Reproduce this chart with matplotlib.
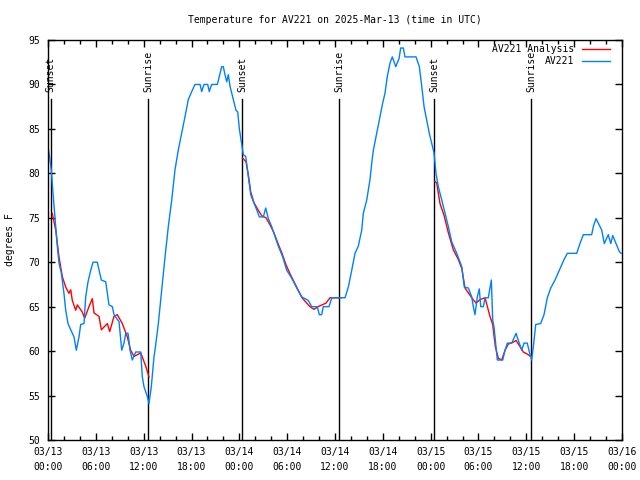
import matplotlib
matplotlib.use('Agg')
import matplotlib.pyplot as plt
from matplotlib.ticker import MultipleLocator
import numpy as np

# hours since 2025-03-13 00:00 UTC
obs_hours = [0.0, 0.25, 0.41, 0.66, 0.97, 1.17, 1.38, 1.67, 2.0, 2.22, 2.51, 2.85, 3.26, 3.55,
             3.89, 4.10, 4.52, 4.73, 5.02, 5.36, 5.64, 6.18, 6.69, 7.24, 7.65, 8.07, 8.28, 8.91,
             9.25, 9.53, 9.75, 10.04, 10.29, 10.57, 11.0, 11.63, 11.83, 12.04, 12.46, 12.67,
             12.96, 13.30, 13.42, 13.84, 14.26, 14.68, 15.09, 15.52, 15.93, 16.34, 16.77, 17.19,
             17.60, 18.03, 18.44, 19.07, 19.28, 19.57, 20.03, 20.23, 20.53, 21.24, 21.49, 21.79,
             21.99, 22.20, 22.42, 22.62, 22.83, 23.24, 23.58, 23.80, 24.0, 24.21, 24.50, 24.80,
             25.13, 25.43, 25.68, 26.09, 26.51, 27.01, 27.31, 27.64, 28.06, 28.47, 28.89, 29.44,
             29.94, 30.57, 31.20, 31.82, 32.65, 33.08, 33.78, 34.03, 34.33, 34.53, 35.25, 35.59,
             37.26, 37.67, 38.10, 38.51, 38.92, 39.35, 39.55, 39.98, 40.39, 40.60, 40.81, 41.23,
             41.65, 41.98, 42.27, 42.56, 42.90, 43.19, 43.62, 44.03, 44.24, 44.57, 44.78, 46.16,
             46.58, 46.88, 47.17, 47.50, 47.83, 48.13, 48.42, 48.67, 48.96, 49.39, 49.80, 50.22,
             50.64, 51.27, 51.90, 52.22, 52.73, 53.15, 53.35, 53.56, 53.85, 54.10, 54.28, 54.61,
             54.82, 55.23, 55.44, 55.61, 55.78, 55.95, 56.20, 56.36, 57.04, 57.33, 57.62, 58.17,
             58.71, 59.0, 59.42, 59.71, 60.12, 60.46, 60.67, 60.88, 61.18, 61.80, 62.22, 62.63,
             63.06, 63.60, 64.14, 64.73, 65.14, 66.32, 66.73, 67.15, 68.20, 68.40, 68.74, 69.03,
             69.46, 69.78, 70.28, 70.59, 70.84, 71.25, 71.66, 71.88]
obs_temp = [83.0, 81.5, 80.4, 77.4, 74.0, 71.8, 69.9, 68.8, 66.5, 64.6, 63.1, 62.4, 61.6, 60.1,
            61.6, 63.0, 63.1, 66.1, 67.8, 69.1, 70.0, 70.0, 68.0, 67.8, 65.2, 65.0, 64.1, 63.3,
            60.1, 60.9, 62.0, 62.0, 60.1, 59.0, 59.9, 59.9, 57.1, 56.0, 54.9, 54.1,
            56.0, 59.4, 60.1, 63.1, 66.9, 70.6, 74.0, 77.0, 80.4, 82.6, 84.5, 86.4,
            88.3, 89.2, 90.0, 90.0, 89.2, 90.0, 90.0, 89.2, 90.0, 90.0, 90.9, 92.0,
            92.0, 91.1, 90.3, 91.1, 89.8, 88.3, 87.1, 86.9, 85.0, 83.8, 82.1, 81.9,
            79.6, 77.6, 77.0, 76.1, 75.1, 75.1, 76.1, 74.9, 74.0, 72.9, 71.8, 70.6,
            69.1, 68.2, 67.1, 66.1, 65.7, 65.0, 65.0, 64.1, 64.1, 65.0, 65.0, 66.0,
            66.0, 67.2, 69.1, 71.0, 71.8, 73.6, 75.5, 77.0, 79.3, 81.1, 82.6, 84.5,
            86.4, 87.9, 89.0, 90.9, 92.4, 93.1, 92.0, 92.9, 94.1, 94.1, 93.1, 93.1,
            92.0, 89.8, 87.5, 86.0, 84.5, 83.4, 82.3, 80.0, 78.5, 77.0, 75.5, 74.0,
            72.3, 71.0, 69.5, 67.2, 67.1, 66.1, 65.0, 64.1, 66.1, 67.0, 65.0, 65.0,
            66.0, 66.0, 67.1, 68.0, 63.5, 62.7, 60.5, 59.0, 59.0, 60.1, 60.9, 60.9,
            62.0, 61.2, 60.1, 60.9, 60.9, 59.6, 59.0, 60.5, 63.0, 63.1, 64.1, 66.0,
            67.1, 68.0, 69.1, 70.3, 71.0, 71.0, 72.1, 73.1, 73.1, 74.0, 74.9, 74.4,
            73.6, 72.1, 73.1, 72.1, 73.0, 72.1, 71.2, 71.0]

# analysis, one segment per night (nan splits them)
ana_hours = [0.54, 0.97, 1.38, 1.79, 2.22, 2.63, 2.85, 3.05, 3.47, 3.68, 4.30, 4.60, 5.14, 5.56,
             5.77, 6.40, 6.69, 7.44, 7.74, 8.28, 8.69, 9.32, 9.95, 10.37, 10.79, 11.63, 12.26,
             12.67, np.nan,
             24.42, 24.84, 25.13, 25.43, 25.84, 26.34, 26.84, 27.34, 27.85, 28.35, 28.85, 29.35,
             29.86, 30.36, 30.86, 31.36, 31.86, 32.36, 32.86, 33.36, 33.87, 34.37, 34.87, 35.37,
             36.75, np.nan,
             48.54, 48.76, 49.17, 49.67, 50.22, 50.84, 51.47, 51.90, 52.31, 53.15, 53.69, 54.19,
             54.82, 55.44, 55.78, 56.11, 56.49, 56.91, 57.33, 57.74, 58.37, 58.71, 59.21, 59.62,
             60.05, 60.55]
ana_temp = [75.5, 73.6, 70.6, 68.4, 67.2, 66.5, 66.9, 65.7, 64.6, 65.2, 64.4, 63.7, 65.0, 65.9,
            64.3, 63.9, 62.4, 63.1, 62.2, 63.9, 64.1, 63.1, 61.6, 60.1, 59.4, 59.8, 58.3,
            57.1, np.nan,
            81.7, 81.3, 79.8, 77.9, 76.7, 75.9, 75.2, 75.0, 74.2, 73.3, 72.1, 71.0,
            69.7, 68.7, 67.8, 66.9, 66.0, 65.5, 65.0, 64.7, 65.0, 65.2, 65.4, 66.0,
            66.0, np.nan,
            79.1, 78.9, 76.6, 75.3, 73.3, 71.4, 70.3, 69.3, 67.1, 66.0, 65.4, 65.8,
            66.0, 63.9, 63.0, 60.5, 59.2, 59.0, 60.1, 60.8, 61.0, 61.2, 60.5, 59.9,
            59.7, 59.4]

sun_hours = [0.34, 12.58, 24.37, 36.54, 48.46, 60.63]
sun_names = ["Sunset", "Sunrise", "Sunset", "Sunrise", "Sunset", "Sunrise"]

tick_labels = ["03/13\n00:00", "03/13\n06:00", "03/13\n12:00", "03/13\n18:00",
               "03/14\n00:00", "03/14\n06:00", "03/14\n12:00", "03/14\n18:00",
               "03/15\n00:00", "03/15\n06:00", "03/15\n12:00", "03/15\n18:00",
               "03/16\n00:00"]

plt.rcParams['font.family'] = ['DejaVu Sans Mono']
plt.rcParams['font.size'] = 7

fig = plt.figure(figsize=(6.4, 4.8), dpi=100)
ax = fig.add_axes([48 / 640, 40 / 480, 574 / 640, 400 / 480])

for h, name in zip(sun_hours, sun_names):
    ax.plot([h, h], [50, 88.4], color='black', lw=1)
    ax.text(h, 89.2, name, rotation=90, ha='center', va='bottom')

ax.plot(ana_hours, ana_temp, color='#ff0000', lw=1, label='AV221 Analysis')
ax.plot(obs_hours, obs_temp, color='#0080ff', lw=1, label='AV221')

ax.set_xlim(0, 72)
ax.set_ylim(50, 95)
ax.set_xticks(np.arange(0, 73, 6))
ax.set_xticklabels(tick_labels, linespacing=1.65)
ax.xaxis.set_minor_locator(MultipleLocator(2))
ax.set_yticks(np.arange(50, 96, 5))
ax.tick_params(which='both', direction='in', top=True, right=True, width=1)
ax.tick_params(which='major', length=5)
ax.tick_params(which='minor', length=3)
ax.tick_params(axis='x', pad=5)
ax.tick_params(axis='y', pad=6)
for s in ax.spines.values():
    s.set_linewidth(1)

ax.set_title("Temperature for AV221 on 2025-Mar-13 (time in UTC)", pad=12, fontsize=7)
fig.text(10 / 640, 0.5, "degrees F", rotation=90, ha='center', va='center')

ax.legend(loc='upper right', bbox_to_anchor=(0.979, 0.99), frameon=False, markerfirst=False,
          handlelength=2.9, handletextpad=0.8, labelspacing=0.2, borderpad=0, borderaxespad=0)

plt.savefig('out.png', dpi=100)
plt.close()
